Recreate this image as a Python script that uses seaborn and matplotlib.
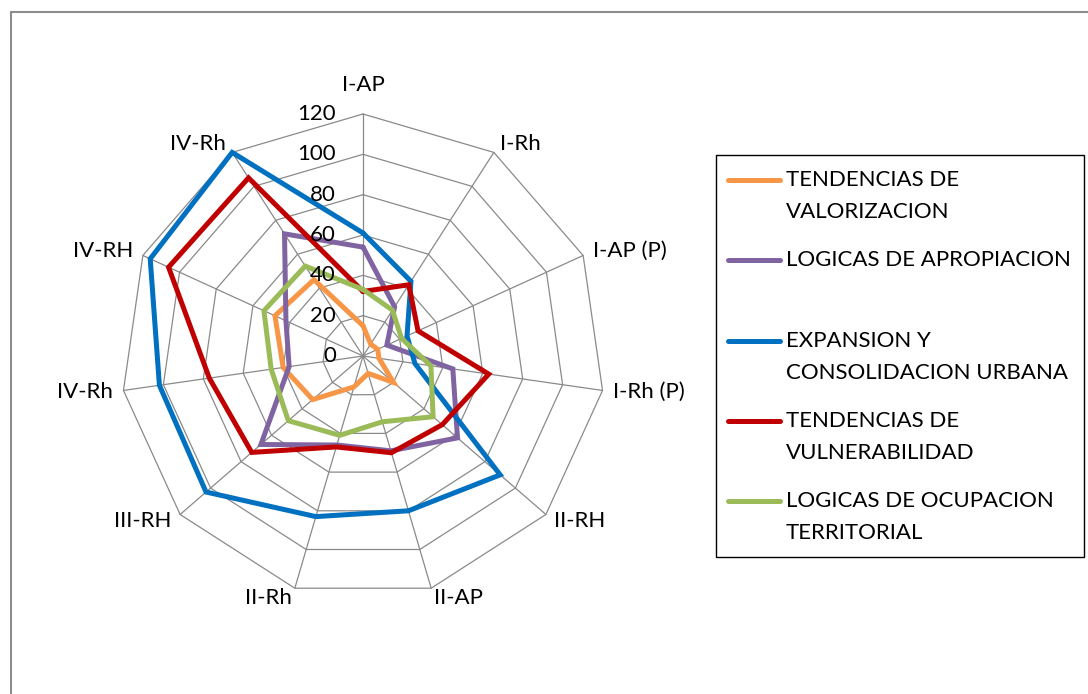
import numpy as np
import pandas as pd
import matplotlib
matplotlib.use("Agg")
import matplotlib.pyplot as plt
from matplotlib.transforms import offset_copy
from matplotlib.lines import Line2D
from matplotlib.patches import Rectangle
import seaborn as sns

# ---- data -------------------------------------------------------------
categorias = ["I-AP", "I-Rh", "I-AP (P)", "I-Rh (P)", "II-RH", "II-AP",
              "II-Rh", "III-RH", "IV-Rh", "IV-RH", "IV-Rh"]
valorizacion = [15, 7, 8, 8, 20, 9, 16, 33, 40, 48, 45]
apropiacion = [54, 29, 13, 45, 62, 49, 46, 67, 37, 42, 72]
expansion = [61, 44, 24, 26, 90, 80, 83, 103, 102, 116, 120]
vulnerabilidad = [32, 42, 30, 63, 52, 50, 47, 73, 77, 106, 105]
ocupacion = [33, 27, 21, 34, 46, 34, 41, 49, 46, 54, 53]

series_nombres = ["TENDENCIAS DE\nVALORIZACION",
                  "LOGICAS DE APROPIACION",
                  "EXPANSION Y\nCONSOLIDACION URBANA",
                  "TENDENCIAS DE\nVULNERABILIDAD",
                  "LOGICAS DE OCUPACION\nTERRITORIAL"]
series_valores = [valorizacion, apropiacion, expansion, vulnerabilidad, ocupacion]
colores = ["#F79646", "#8064A2", "#0070C0", "#C00000", "#9BBB59"]
niveles = [0, 20, 40, 60, 80, 100, 120]

# ---- style ------------------------------------------------------------
sns.set_theme(style="white")
plt.rcParams["font.family"] = ["Lato", "DejaVu Sans"]
FS = 16
GRID = "#8A8A8A"

W, H = 1088, 694
fig = plt.figure(figsize=(W / 100, H / 100), dpi=100)
fig.patch.set_facecolor("white")


def fx(x):
    return x / W


def fy(y):
    return 1 - y / H


# polar axes: centre (363, 356) px, outer ring radius 242 px
cx, cy, R = 363, 356, 242
ax = fig.add_axes([fx(cx - R), fy(cy + R), 2 * R / W, 2 * R / H],
                  projection="polar")
ax.set_theta_zero_location("N")
ax.set_theta_direction(-1)
ax.set_facecolor("none")

n = len(categorias)
angulos = np.linspace(0, 2 * np.pi, n, endpoint=False)
ang_cerrado = np.append(angulos, 2 * np.pi)

# polygon grid and spokes
for lv in niveles[1:]:
    ax.plot(ang_cerrado, [lv] * (n + 1), color=GRID, lw=0.9, zorder=1)
for t in angulos:
    ax.plot([t, t], [0, niveles[-1]], color=GRID, lw=0.9, zorder=1)

# series
filas = []
for nombre, vals in zip(series_nombres, series_valores):
    cerrado = list(vals) + [vals[0]]
    for k, (t, v) in enumerate(zip(ang_cerrado, cerrado)):
        filas.append({"serie": nombre, "theta": t, "valor": v, "orden": k})
df = pd.DataFrame(filas)

sns.lineplot(data=df, x="theta", y="valor", hue="serie",
             hue_order=series_nombres, palette=colores, sort=False,
             estimator=None, lw=3.6, legend=False, ax=ax, zorder=3)
for ln in ax.lines:
    ln.set_clip_on(False)
    ln.set_solid_joinstyle("miter")

ax.set_ylim(0, niveles[-1])
ax.set_xticks([])
ax.set_yticks([])
ax.set_xlabel("")
ax.set_ylabel("")
ax.grid(False)
ax.spines["polar"].set_visible(False)

# radial value labels beside the top spoke
tr_r = offset_copy(ax.transData, fig=fig, x=-27, y=0, units="dots")
for lv in niveles:
    ax.text(0, lv, str(lv), transform=tr_r, ha="right", va="center",
            fontsize=FS, color="black", clip_on=False)

# category labels around the outer ring
for t, nombre in zip(angulos, categorias):
    s, c = np.sin(t), np.cos(t)
    if abs(s) < 0.1:
        ox, oy, ha = 0, 29, "center"
    else:
        ox, oy = 11 * s, 10 * c
        ha = "left" if s > 0 else "right"
    tr = offset_copy(ax.transData, fig=fig, x=ox, y=oy, units="dots")
    ax.text(t, niveles[-1], nombre, transform=tr, ha=ha, va="center",
            fontsize=FS, color="black", clip_on=False)

# legend box
fig.add_artist(Rectangle((fx(716), fy(557)), fx(1084) - fx(716),
                         fy(155) - fy(557), transform=fig.transFigure,
                         fill=False, edgecolor="black", lw=1.0))
entrada_y = [180, 260, 341, 421, 501]
salto = 32
for nombre, color, y0 in zip(series_nombres, colores, entrada_y):
    fig.add_artist(Line2D([fx(728), fx(780)], [fy(y0), fy(y0)],
                          transform=fig.transFigure, color=color, lw=3.6,
                          solid_capstyle="round"))
    for k, linea in enumerate(nombre.split("\n")):
        fig.text(fx(786), fy(y0 + k * salto), linea, ha="left",
                 va="center", fontsize=FS, color="black")

# outer chart frame
fig.add_artist(Line2D([fx(11), fx(11)], [fy(12), 0], transform=fig.transFigure,
                      color="#8C8C8C", lw=1.5))
fig.add_artist(Line2D([fx(11), 1], [fy(12), fy(12)], transform=fig.transFigure,
                      color="#8C8C8C", lw=1.5))

fig.savefig("out.png", dpi=100, facecolor="white")
